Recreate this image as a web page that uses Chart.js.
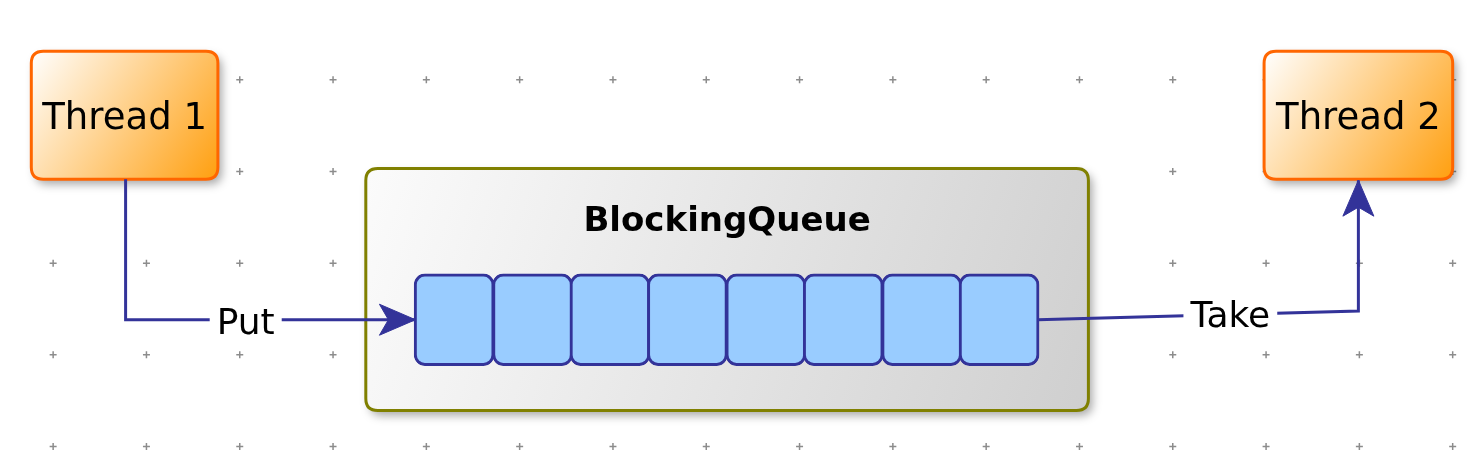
<!DOCTYPE html>
<html>
<head>
<meta charset="utf-8">
<title>BlockingQueue</title>
<script src="https://cdn.jsdelivr.net/npm/chart.js@4"></script>
<style>
  html, body { margin: 0; padding: 0; background: #ffffff; overflow: hidden; }
  canvas { display: block; }
</style>
</head>
<body>
<canvas id="diagram" width="1482" height="456"></canvas>
<script>
// diagram data, in diagram units (the scales map them 1:1 onto the page)
const gridCols = [48, 142, 236, 330, 424, 518, 612, 706, 800, 894, 988, 1082, 1176, 1270, 1364, 1458];
const gridRows = [76, 170, 264, 358, 452];

const threadNames = ['Thread 1', 'Thread 2'];
const threadLeft = [26, 1268];
const threadRight = [214, 1458];
const threadTop = [47, 47];
const threadBottom = [178, 178];

const queueTitle = 'BlockingQueue';
const queueLeft = 363;
const queueRight = 1091;
const queueTop = 167;
const queueBottom = 415;

// 8 slots of the queue
const slotCenters = [452, 531, 609, 687, 766, 844, 923, 1001];
const slotTop = 275;
const slotBottom = 369;

const edgeNames = ['Put', 'Take'];
const putX = [121, 121, 413];
const putY = [178, 322, 322];
const takeX = [1040, 1363, 1363];
const takeY = [322, 313, 179];
const labelX = [242, 1234];
const labelBaseline = [337, 329];

const FONT = '"DejaVu Sans", "Open Sans", sans-serif';
const EDGE = '#333399';

const gridPoints = [];
for (const y of gridRows) {
    for (const x of gridCols) gridPoints.push({x: x, y: y});
}

function roundRect(ctx, x, y, w, h, r) {
    ctx.beginPath();
    ctx.moveTo(x + r, y);
    ctx.lineTo(x + w - r, y);
    ctx.quadraticCurveTo(x + w, y, x + w, y + r);
    ctx.lineTo(x + w, y + h - r);
    ctx.quadraticCurveTo(x + w, y + h, x + w - r, y + h);
    ctx.lineTo(x + r, y + h);
    ctx.quadraticCurveTo(x, y + h, x, y + h - r);
    ctx.lineTo(x, y + r);
    ctx.quadraticCurveTo(x, y, x + r, y);
    ctx.closePath();
}

function drawBox(chart, l, t, r, b, from, to, stroke) {
    const ctx = chart.ctx;
    const xs = chart.scales.x, ys = chart.scales.y;
    const x0 = xs.getPixelForValue(l), x1 = xs.getPixelForValue(r);
    const y0 = ys.getPixelForValue(t), y1 = ys.getPixelForValue(b);
    const grad = ctx.createLinearGradient(x0, y0, x1, y1);
    grad.addColorStop(0, from);
    grad.addColorStop(1, to);
    ctx.save();
    // shadow only under the fill
    ctx.shadowColor = 'rgba(0,0,0,0.35)';
    ctx.shadowBlur = 10;
    ctx.shadowOffsetX = 4;
    ctx.shadowOffsetY = 5;
    roundRect(ctx, x0, y0, x1 - x0, y1 - y0, 12);
    ctx.fillStyle = '#ffffff';
    ctx.fill();
    ctx.restore();
    ctx.save();
    roundRect(ctx, x0, y0, x1 - x0, y1 - y0, 12);
    ctx.globalAlpha = 0.94;
    ctx.fillStyle = grad;
    ctx.fill();
    ctx.globalAlpha = 1;
    ctx.lineWidth = 3;
    ctx.strokeStyle = stroke;
    ctx.stroke();
    ctx.restore();
}

// draws the arrow head at the last point of a path
function arrowHead(chart, xsArr, ysArr) {
    const ctx = chart.ctx;
    const xs = chart.scales.x, ys = chart.scales.y;
    const n = xsArr.length;
    const tx = xs.getPixelForValue(xsArr[n - 1]), ty = ys.getPixelForValue(ysArr[n - 1]);
    const px = xs.getPixelForValue(xsArr[n - 2]), py = ys.getPixelForValue(ysArr[n - 2]);
    const a = Math.atan2(ty - py, tx - px);
    const len = 36, half = 15.5, notch = 27;
    ctx.save();
    ctx.translate(tx, ty);
    ctx.rotate(a);
    ctx.beginPath();
    ctx.moveTo(0, 0);
    ctx.lineTo(-len, -half);
    ctx.lineTo(-notch, 0);
    ctx.lineTo(-len, half);
    ctx.closePath();
    ctx.fillStyle = EDGE;
    ctx.fill();
    ctx.lineJoin = 'miter';
    ctx.lineWidth = 1;
    ctx.strokeStyle = EDGE;
    ctx.stroke();
    ctx.restore();
}

const diagramPlugin = {
    id: 'diagram',
    afterDatasetDraw(chart, args) {
        if (args.meta.label !== 'grid') return;
        const ctx = chart.ctx;
        const xs = chart.scales.x, ys = chart.scales.y;
        // thread boxes
        for (let i = 0; i < threadNames.length; i++) {
            drawBox(chart, threadLeft[i], threadTop[i], threadRight[i], threadBottom[i], '#ffffff', '#ff9900', '#ff6600');
            ctx.save();
            ctx.font = '37px ' + FONT;
            ctx.fillStyle = '#000000';
            ctx.textAlign = 'center';
            ctx.textBaseline = 'alphabetic';
            const cx = xs.getPixelForValue((threadLeft[i] + threadRight[i]) / 2);
            ctx.fillText(threadNames[i], cx, ys.getPixelForValue(127));
            ctx.restore();
        }
        // queue container
        drawBox(chart, queueLeft, queueTop, queueRight, queueBottom, '#fbfbfb', '#cccccc', '#808000');
        ctx.save();
        ctx.font = 'bold 34px ' + FONT;
        ctx.fillStyle = '#000000';
        ctx.textAlign = 'center';
        ctx.textBaseline = 'alphabetic';
        ctx.fillText(queueTitle, xs.getPixelForValue((queueLeft + queueRight) / 2), ys.getPixelForValue(231));
        ctx.restore();
    },
    afterDatasetsDraw(chart) {
        const ctx = chart.ctx;
        const xs = chart.scales.x, ys = chart.scales.y;
        arrowHead(chart, putX, putY);
        arrowHead(chart, takeX, takeY);
        ctx.save();
        ctx.font = '36px ' + FONT;
        ctx.textAlign = 'center';
        ctx.textBaseline = 'alphabetic';
        for (let i = 0; i < edgeNames.length; i++) {
            const cx = xs.getPixelForValue(labelX[i]);
            const by = ys.getPixelForValue(labelBaseline[i]);
            const w = ctx.measureText(edgeNames[i]).width;
            ctx.fillStyle = '#ffffff';
            ctx.fillRect(cx - w / 2 - 7, by - 31, w + 14, 40);
            ctx.fillStyle = '#000000';
            ctx.fillText(edgeNames[i], cx, by);
        }
        ctx.restore();
    }
};

const toPoints = (xa, ya) => xa.map((x, i) => ({x: x, y: ya[i]}));

new Chart(document.getElementById('diagram'), {
    type: 'scatter',
    data: {
        datasets: [
            {
                label: 'grid',
                data: gridPoints,
                pointStyle: 'cross',
                pointRadius: 3.5,
                pointBorderWidth: 1.5,
                pointBorderColor: '#8c8c8c',
                order: 3
            },
            {
                type: 'bar',
                label: 'slots',
                data: slotCenters.map(x => ({x: x, y: [slotTop, slotBottom]})),
                backgroundColor: '#99ccff',
                borderColor: EDGE,
                borderWidth: 3,
                borderRadius: 11,
                borderSkipped: false,
                barThickness: 80,
                order: 2
            },
            {
                label: 'put',
                data: toPoints(putX, putY),
                showLine: true,
                borderColor: EDGE,
                borderWidth: 3,
                pointRadius: 0,
                order: 1
            },
            {
                label: 'take',
                data: toPoints(takeX, takeY),
                showLine: true,
                borderColor: EDGE,
                borderWidth: 3,
                pointRadius: 0,
                order: 1
            }
        ]
    },
    options: {
        responsive: false,
        animation: false,
        events: [],
        layout: { padding: 0 },
        plugins: {
            legend: { display: false },
            tooltip: { enabled: false }
        },
        scales: {
            x: { type: 'linear', min: 0, max: 1482, offset: false, display: false },
            y: { type: 'linear', min: 0, max: 456, reverse: true, display: false }
        }
    },
    plugins: [diagramPlugin]
});
</script>
</body>
</html>
